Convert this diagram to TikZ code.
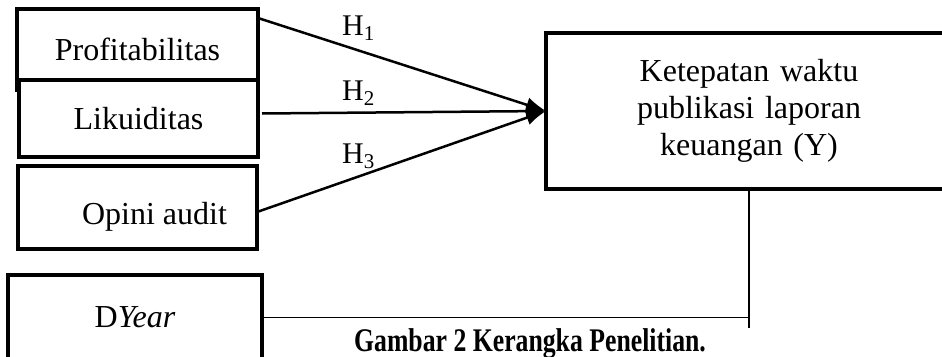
\documentclass[tikz,border=0pt]{standalone}
\usepackage{fontspec}
\setmainfont{Liberation Serif}
\usepackage{graphicx}
\usetikzlibrary{arrows.meta}

\tikzset{
  varbox/.style={draw, fill=white, line width=4pt, inner sep=0pt, outer sep=0pt, anchor=north west, font=\fontsize{32}{37}\selectfont},
  hyp/.style={line width=2.5pt, -{Latex[length=20pt, width=15pt]}},
  hlab/.style={anchor=base west, inner sep=0pt, font=\fontsize{30}{30}\selectfont},
  link/.style={line width=1.6pt}
}

\begin{document}
\begin{tikzpicture}[x=1pt, y=-1pt]
    \useasboundingbox (0,0) rectangle (942,356);
    \clip (0,0) rectangle (942,356);
    \node[varbox, minimum width=241pt, minimum height=81pt] (prof) at (17,9) {Profitabilitas};
    \node[varbox, minimum width=239pt, minimum height=77pt] (lik) at (19,80) {Likuiditas};
    \node[varbox, minimum width=239pt, minimum height=83pt, label={[font=\fontsize{32}{37}\selectfont, xshift=17pt, yshift=-9pt]center:Opini audit}] (opini) at (18,166) {};
    \node[varbox, minimum width=254pt, minimum height=85pt] (dyear) at (8,275) {D\textit{Year}};
    \node[varbox, minimum width=406pt, minimum height=156pt, text width=380pt, align=center] (ket) at (546,33) {Ketepatan waktu\\ publikasi laporan\\ keuangan (Y)};
    \draw [hyp] ([yshift=-9pt]prof.north east) -- (ket.west);
    \draw [hyp] ([xshift=4pt, yshift=5pt]lik.east) -- (ket.west);
    \draw [hyp] ([yshift=-4.5pt]opini.east) -- (ket.west);
    \node[hlab] (h1) at (342,35) {H\textsubscript{1}};
    \node[hlab] (h2) at (342,100) {H\textsubscript{2}};
    \node[hlab] (h3) at (342,163) {H\textsubscript{3}};
    \draw [link] (dyear.east) -- (dyear.east -| ket.south);
    \draw [link] (ket.south) -- ++(0,139);
    \node[font=\bfseries\fontsize{33}{33}\selectfont, anchor=base, inner sep=0pt] (cap) at (530,351) {\scalebox{0.78}[1]{Gambar 2 Kerangka Penelitian.}};
\end{tikzpicture}
\end{document}
